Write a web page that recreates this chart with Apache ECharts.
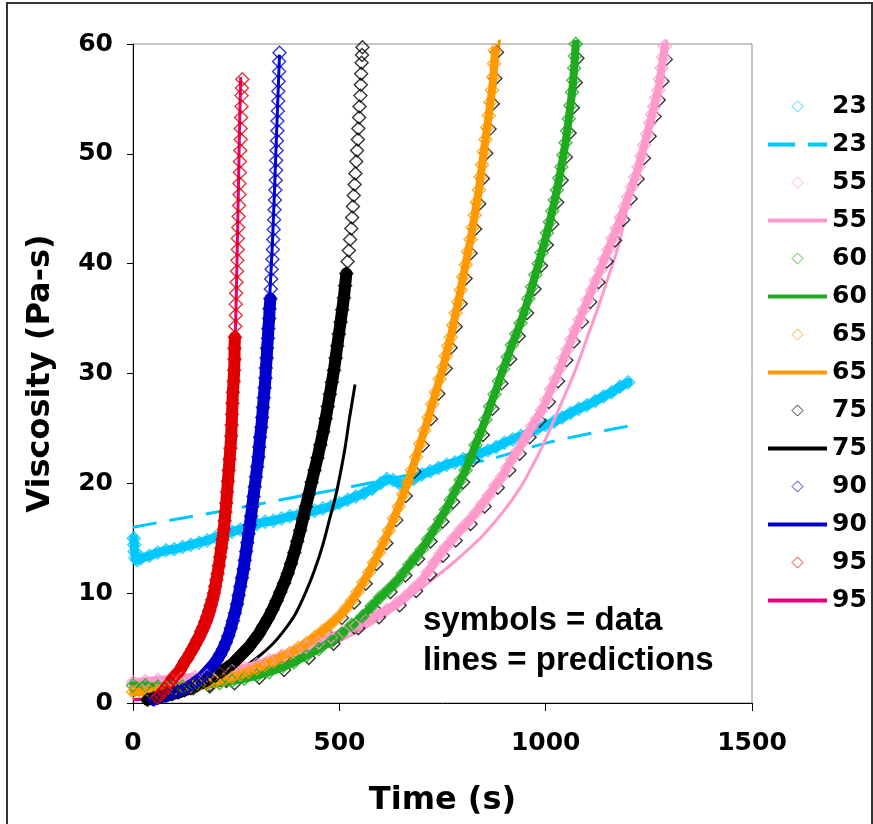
<!DOCTYPE html>
<html>
<head>
<meta charset="utf-8">
<title>Viscosity vs time</title>
<script src="https://cdn.jsdelivr.net/npm/echarts@6/dist/echarts.min.js"></script>
<style>
  html, body { margin: 0; padding: 0; background: #fff; }
  #chart { width: 873px; height: 824px; }
</style>
</head>
<body>
<div id="chart"></div>
<script>
// measured data, [time s, viscosity Pa-s]
const data23 = [
  [2, 15.0], [3, 14.4], [4, 13.8], [6, 13.2], [10, 13.0], [20, 13.2], [40, 13.4], [60, 13.7], [80, 13.9],
  [100, 14.0], [120, 14.2], [140, 14.4], [160, 14.6], [180, 14.8], [200, 15.1], [220, 15.3], [240, 15.6],
  [260, 15.8], [280, 16.0], [300, 16.3], [320, 16.5], [340, 16.6], [360, 16.8], [380, 17.0], [400, 17.1],
  [420, 17.3], [440, 17.5], [460, 17.7], [480, 17.9], [500, 18.2], [520, 18.5], [540, 18.8], [560, 19.1],
  [580, 19.5], [600, 20.0], [615, 20.4], [630, 20.3], [645, 20.0], [660, 20.0], [680, 20.4], [700, 20.8],
  [720, 21.1], [740, 21.4], [760, 21.7], [780, 21.9], [800, 22.2], [820, 22.4], [840, 22.7], [860, 23.0],
  [880, 23.3], [900, 23.7], [920, 24.0], [940, 24.3], [960, 24.6], [980, 25.0], [1000, 25.3], [1020, 25.6],
  [1040, 26.0], [1060, 26.4], [1080, 26.8], [1100, 27.1], [1120, 27.5], [1140, 27.9], [1160, 28.3],
  [1180, 28.8], [1200, 29.2]
];
const pred23 = [
  [0, 16.0], [100, 16.7], [234, 17.6], [400, 18.8], [516, 19.6], [700, 21.0], [854, 22.1], [1015, 23.8], [1200, 25.2]
];

const data55 = [
  [0, 1.9], [30, 2.0], [60, 2.1], [90, 2.2], [120, 2.3], [150, 2.4], [180, 2.5], [210, 2.7], [240, 2.9],
  [270, 3.2], [300, 3.5], [330, 3.9], [360, 4.3], [390, 4.7], [420, 5.1], [450, 5.5], [480, 6.0], [510, 6.5],
  [540, 7.0], [565, 7.5], [590, 8.0], [615, 8.5], [640, 9.1], [660, 9.7], [680, 10.4], [697, 11.0],
  [714, 11.9], [730, 12.8], [745, 13.6], [758, 14.2], [776, 15.0], [794, 15.8], [812, 16.5], [830, 17.3],
  [846, 18.1], [862, 18.9], [878, 19.8], [894, 20.6], [906, 21.4], [918, 22.2], [931, 22.9], [943, 23.7],
  [955, 24.4], [967, 25.2], [979, 25.9], [991, 26.7], [1002, 27.6], [1013, 28.6], [1024, 29.5], [1035, 30.5],
  [1044, 31.4], [1053, 32.2], [1062, 33.1], [1072, 34.0], [1082, 34.9], [1092, 35.8], [1102, 36.7],
  [1112, 37.6], [1122, 38.5], [1132, 39.4], [1142, 40.4], [1152, 41.3], [1162, 42.3], [1172, 43.2],
  [1182, 44.2], [1192, 45.2], [1200, 46.1], [1209, 47.0], [1217, 47.9], [1225, 48.8], [1232, 49.8],
  [1239, 50.8], [1246, 51.8], [1253, 52.8], [1258, 53.6], [1263, 54.3], [1268, 55.1], [1273, 55.8],
  [1277, 56.8], [1281, 57.8], [1285, 58.8], [1289, 59.8]
];
const pred55 = [
  [0, 1.7], [150, 2.1], [300, 3.0], [450, 4.8], [550, 6.6], [630, 8.5], [693, 10.3], [774, 12.7], [854, 15.5],
  [935, 19.4], [991, 23.3], [1031, 26.7], [1072, 30.3], [1100, 33.2], [1128, 36.1], [1152, 38.8], [1176, 41.6],
  [1208, 46.7], [1230, 49.4], [1250, 51.9], [1273, 55.8], [1293, 60.4]
];

const data60 = [
  [0, 1.6], [30, 1.6], [60, 1.5], [90, 1.5], [120, 1.5], [150, 1.6], [180, 1.7], [210, 1.8], [240, 2.0],
  [270, 2.2], [300, 2.5], [330, 2.8], [360, 3.2], [390, 3.7], [420, 4.3], [450, 4.9], [480, 5.6], [505, 6.3],
  [530, 7.1], [556, 7.9], [578, 8.8], [598, 9.6], [618, 10.3], [637, 11.0], [654, 11.8], [670, 12.6],
  [685, 13.3], [700, 14.0], [715, 14.9], [730, 15.8], [744, 16.7], [758, 17.6], [770, 18.5], [782, 19.4],
  [794, 20.3], [806, 21.2], [818, 22.3], [830, 23.5], [842, 24.6], [854, 25.8], [865, 27.0], [876, 28.1],
  [887, 29.3], [897, 30.4], [908, 31.5], [918, 32.6], [929, 33.6], [939, 34.6], [949, 35.7], [958, 36.8],
  [967, 37.9], [975, 39.0], [983, 40.0], [990, 41.0], [997, 41.9], [1003, 42.8], [1010, 43.8], [1016, 44.8],
  [1022, 45.8], [1027, 46.7], [1033, 47.8], [1038, 48.8], [1043, 49.9], [1048, 51.0], [1052, 52.1],
  [1056, 53.2], [1060, 54.4], [1064, 55.6], [1067, 56.7], [1069, 57.8], [1071, 58.9], [1073, 60.0]
];
const pred60 = [
  [0, 1.3], [100, 1.4], [200, 1.7], [300, 2.4], [400, 3.8], [500, 6.0], [600, 9.4], [700, 14.0], [800, 20.9],
  [900, 30.4], [950, 35.9], [1000, 42.4], [1040, 49.2], [1060, 53.4], [1078, 60.4]
];

const data65 = [
  [0, 1.0], [20, 1.0], [40, 1.05], [60, 1.1], [80, 1.15], [100, 1.25], [120, 1.35], [140, 1.5], [160, 1.65],
  [180, 1.8], [200, 1.95], [220, 2.15], [240, 2.35], [260, 2.6], [280, 2.85], [300, 3.15], [320, 3.45],
  [340, 3.8], [360, 4.15], [380, 4.55], [400, 5.0], [420, 5.45], [440, 6.0], [460, 6.6], [480, 7.2],
  [500, 7.9], [516, 8.6], [530, 9.3], [544, 10.1], [558, 11.0], [572, 11.9], [584, 12.8], [596, 13.7],
  [608, 14.7], [620, 15.7], [632, 16.8], [644, 17.9], [655, 19.0], [666, 20.1], [676, 21.2], [686, 22.4],
  [696, 23.6], [706, 24.8], [716, 26.0], [725, 27.2], [734, 28.3], [743, 29.5], [752, 30.6], [758, 31.6],
  [764, 32.5], [770, 33.3], [776, 34.4], [782, 35.5], [788, 36.5], [794, 37.6], [800, 38.8], [806, 39.9],
  [812, 41.1], [818, 42.2], [823, 43.3], [828, 44.4], [833, 45.6], [838, 46.7], [842, 47.9], [846, 49.0],
  [850, 50.2], [854, 51.3], [858, 52.4], [862, 53.5], [866, 54.7], [870, 55.8], [873, 57.0], [875, 58.2],
  [877, 59.4]
];
const pred65 = [
  [0, 0.8], [100, 1.15], [200, 1.9], [300, 3.1], [400, 4.9], [500, 7.8], [572, 11.8], [620, 15.6], [660, 19.6],
  [700, 24.1], [750, 30.4], [800, 38.6], [840, 46.2], [870, 54.5], [888, 60.4]
];

const data75 = [
  [35, 0.3], [50, 0.45], [65, 0.55], [80, 0.65], [95, 0.8], [110, 0.95], [125, 1.15], [140, 1.35], [155, 1.6],
  [170, 1.9], [185, 2.2], [200, 2.5], [214, 2.85], [228, 3.2], [242, 3.6], [255, 4.1], [268, 4.6], [281, 5.1],
  [293, 5.7], [305, 6.3], [316, 7.0], [327, 7.7], [338, 8.5], [348, 9.3], [357, 10.1], [366, 10.9],
  [375, 11.8], [383, 12.7], [391, 13.7], [398, 14.7], [405, 15.7], [412, 16.8], [419, 17.9], [426, 19.0],
  [433, 20.1], [440, 21.2], [447, 22.3], [454, 23.5], [461, 24.7], [467, 25.9], [472, 27.0], [477, 28.1],
  [482, 29.2], [487, 30.3], [491, 31.4], [495, 32.5], [499, 33.6], [503, 34.7], [507, 35.8], [511, 36.9],
  [514, 38.0], [517, 39.1], [520, 40.2], [523, 41.2], [526, 42.2], [529, 43.2], [531, 44.2], [533, 45.2],
  [535, 46.2], [537, 47.2], [539, 48.2], [541, 49.3], [543, 50.3], [545, 51.3], [546, 52.3], [548, 53.3],
  [549, 54.3], [551, 55.3], [552, 56.3], [553, 57.3], [554, 58.3], [555, 59.0], [556, 59.7]
];
const pred75 = [
  [40, 0.2], [100, 0.7], [154, 1.2], [200, 1.9], [258, 3.0], [300, 4.1], [339, 5.4], [370, 6.8], [395, 8.2],
  [420, 10.2], [440, 12.1], [460, 14.4], [476, 16.7], [492, 19.0], [504, 21.2], [515, 23.5], [524, 25.8],
  [532, 27.6], [538, 29.0]
];

const data90 = [
  [50, 0.3], [60, 0.45], [72, 0.6], [84, 0.75], [96, 0.9], [108, 1.05], [120, 1.2], [132, 1.4], [144, 1.7],
  [155, 2.0], [166, 2.3], [176, 2.7], [186, 3.1], [195, 3.5], [203, 3.9], [211, 4.4], [218, 4.9], [225, 5.5],
  [231, 6.1], [237, 6.8], [242, 7.5], [247, 8.2], [252, 9.0], [256, 9.8], [260, 10.6], [264, 11.4],
  [268, 12.2], [271, 13.0], [274, 13.8], [277, 14.6], [280, 15.4], [283, 16.2], [286, 17.0], [289, 17.9],
  [292, 18.8], [295, 19.7], [298, 20.6], [301, 21.5], [304, 22.4], [306, 23.3], [308, 24.2], [311, 25.1],
  [313, 26.0], [315, 26.9], [317, 27.8], [319, 28.7], [321, 29.6], [322, 30.5], [324, 31.4], [325, 32.3],
  [327, 33.2], [328, 34.1], [330, 35.0], [331, 35.9], [333, 36.8], [334, 37.7], [335, 38.6], [336, 39.5],
  [338, 40.4], [339, 41.3], [340, 42.2], [341, 43.1], [342, 44.0], [343, 44.9], [344, 45.8], [345, 46.7],
  [346, 47.6], [347, 48.5], [347, 49.4], [348, 50.3], [349, 51.2], [350, 52.1], [350, 53.0], [351, 53.9],
  [352, 54.8], [352, 55.7], [353, 56.6], [354, 57.5], [354, 58.4], [355, 59.2]
];
const pred90 = [
  [40, 0.2], [100, 1.0], [150, 1.9], [200, 3.8], [240, 7.2], [270, 12.0], [290, 17.5], [310, 25.0], [325, 33.0],
  [338, 42.0], [348, 52.0], [355, 59.0]
];

const data95 = [
  [60, 0.5], [66, 0.8], [72, 1.0], [78, 1.3], [84, 1.6], [90, 1.9], [96, 2.2], [102, 2.5], [108, 2.7], [114, 3.0],
  [120, 3.4], [126, 3.8], [132, 4.1], [138, 4.5], [144, 4.9], [150, 5.3], [155, 5.7], [160, 6.0], [165, 6.5],
  [170, 6.9], [175, 7.4], [180, 7.9], [184, 8.4], [188, 8.9], [192, 9.4], [196, 10.0], [199, 10.6], [202, 11.2],
  [205, 11.8], [208, 12.5], [211, 13.3], [214, 14.1], [217, 14.9], [220, 15.8], [222, 16.6], [224, 17.4],
  [226, 18.2], [228, 19.2], [230, 20.2], [232, 21.2], [234, 22.2], [236, 23.2], [238, 24.3], [239, 25.3],
  [240, 26.3], [241, 27.3], [242, 28.3], [244, 29.3], [245, 30.3], [246, 31.3], [246, 32.3], [247, 33.3],
  [248, 34.3], [249, 35.3], [249, 36.3], [250, 37.3], [251, 38.3], [252, 39.3], [253, 40.3], [254, 41.3],
  [254, 42.3], [255, 43.3], [256, 44.3], [257, 45.3], [258, 46.3], [258, 47.3], [259, 48.3], [259, 49.3],
  [260, 50.3], [261, 51.3], [261, 52.3], [262, 53.3], [263, 54.3], [263, 55.3], [264, 56.0], [265, 56.8]
];
const pred95 = [
  [0, 0.3], [40, 0.4], [60, 0.6], [100, 1.8], [150, 4.5], [185, 7.0], [205, 9.5], [220, 13.0], [232, 18.0],
  [240, 24.0], [247, 32.0], [253, 42.0], [258, 52.0], [261, 57.0]
];

// black markers peeking out along the 55 / 60 / 65 bands (no legend entry)
const darkNear65 = [
  [106, 1.1], [146, 1.35], [186, 1.65], [226, 2.0], [266, 2.45], [306, 3.0], [346, 3.65], [386, 4.4],
  [426, 5.3], [466, 6.45], [506, 7.75], [536, 9.15], [564, 10.85], [590, 12.65], [614, 14.55], [638, 16.65],
  [661, 18.85], [682, 21.05], [702, 23.45], [722, 25.85], [740, 28.15], [758, 30.45], [770, 32.35],
  [782, 34.25], [794, 36.35], [806, 38.65], [818, 40.95], [829, 43.15], [839, 45.45], [848, 47.75],
  [856, 50.05], [864, 52.25], [872, 54.55], [878, 56.85], [882, 59.25]
];
const darkNear60 = [
  [126, 1.3], [186, 1.5], [246, 1.8], [306, 2.3], [366, 3.0], [426, 4.1], [486, 5.4], [536, 6.9], [584, 8.6],
  [624, 10.1], [660, 11.6], [691, 13.1], [721, 14.7], [750, 16.5], [776, 18.3], [800, 20.1], [824, 22.1],
  [848, 24.4], [871, 26.8], [893, 29.1], [914, 31.3], [935, 33.4], [955, 35.5], [973, 37.7], [989, 39.8],
  [1003, 41.7], [1016, 43.6], [1028, 45.6], [1039, 47.6], [1049, 49.7], [1058, 51.9], [1066, 54.2],
  [1073, 56.5], [1077, 58.7]
];
const darkNear55 = [
  [126, 2.1], [186, 2.3], [246, 2.7], [306, 3.3], [366, 4.1], [426, 4.9], [486, 5.8], [546, 6.8], [596, 7.8],
  [646, 8.9], [686, 10.2], [720, 11.7], [751, 13.4], [782, 14.8], [818, 16.3], [852, 17.9], [884, 19.6],
  [912, 21.2], [937, 22.7], [961, 24.2], [985, 25.7], [1008, 27.4], [1030, 29.3], [1050, 31.2], [1068, 32.9],
  [1088, 34.7], [1108, 36.5], [1128, 38.3], [1148, 40.2], [1168, 42.1], [1188, 44.0], [1206, 45.9],
  [1223, 47.7], [1238, 49.6], [1252, 51.6], [1264, 53.4], [1274, 54.9], [1283, 56.6], [1291, 58.6]
];

const temps = ['23', '55', '60', '65', '75', '90', '95'];
const xTicks = [0, 500, 1000, 1500];
const yTicks = [0, 10, 20, 30, 40, 50, 60];

const FONT = 'DejaVu Sans';
const diamondIcon = 'path://M5.5,0L11,5.5L5.5,11L0,5.5Z';
const lineIcon = 'path://M0,0H59V4H0Z';
const dashIcon = 'path://M0,0H27V4H0Z M40,0H59V4H40Z';

function dataSeries(name, points, color, z) {
  return {
    name,
    type: 'scatter',
    data: points,
    symbol: 'diamond',
    symbolSize: 13,
    z,
    itemStyle: { color: 'rgba(0,0,0,0)', borderColor: color, borderWidth: 1.4 }
  };
}

// dense overlapping markers read as a solid stripe in the lower part of each run
function bandSeries(name, points, color, width, z) {
  return {
    name: name + '-band',
    type: 'line',
    data: points,
    symbol: 'none',
    z,
    lineStyle: { color, width, cap: 'round', join: 'round' }
  };
}

function predSeries(name, points, color, z, dashed) {
  return {
    name: name + ' ',
    type: 'line',
    data: points,
    symbol: 'none',
    smooth: 0.3,
    clip: false,
    z,
    itemStyle: { color },
    lineStyle: { color, width: 3, type: dashed ? [24, 13] : 'solid' }
  };
}

const legendData = [];
temps.forEach((t) => {
  legendData.push({ name: t, icon: diamondIcon });
  legendData.push({ name: t + ' ', icon: t === '23' ? dashIcon : lineIcon });
});

const below = (points, limit) => points.filter((p) => p[1] <= limit);

const chart = echarts.init(document.getElementById('chart'));

chart.setOption({
  animation: false,
  backgroundColor: '#fff',
  grid: {
    left: 133, right: 121, top: 44, bottom: 121,
    show: true, borderColor: '#8c8c8c', borderWidth: 1
  },
  legend: {
    orient: 'vertical',
    left: 768,
    top: 94,
    padding: 0,
    itemWidth: 59,
    itemHeight: 11,
    itemGap: 13,
    symbolKeepAspect: true,
    selectedMode: false,
    data: legendData,
    formatter: (name) => name.trim(),
    itemStyle: { borderWidth: 1 },
    textStyle: { fontFamily: FONT, fontWeight: 'bold', fontSize: 25, lineHeight: 25, color: '#000' }
  },
  xAxis: {
    type: 'value',
    min: xTicks[0],
    max: xTicks[xTicks.length - 1],
    interval: 500,
    name: 'Time (s)',
    nameLocation: 'middle',
    nameGap: 82,
    nameTextStyle: { fontFamily: FONT, fontWeight: 'bold', fontSize: 32, color: '#000' },
    axisLine: { onZero: false, lineStyle: { color: '#000', width: 1 } },
    axisTick: { inside: false, length: 8, lineStyle: { color: '#000' } },
    axisLabel: {
      margin: 28, fontFamily: FONT, fontWeight: 'bold', fontSize: 25, color: '#000',
      formatter: (v) => String(v)
    },
    splitLine: { show: false }
  },
  yAxis: {
    type: 'value',
    min: yTicks[0],
    max: yTicks[yTicks.length - 1],
    interval: 10,
    name: 'Viscosity (Pa-s)',
    nameLocation: 'middle',
    nameGap: 76,
    nameTextStyle: { fontFamily: FONT, fontWeight: 'bold', fontSize: 32, color: '#000' },
    axisLine: { onZero: false, lineStyle: { color: '#000', width: 1 } },
    axisTick: { inside: false, length: 6, lineStyle: { color: '#000' } },
    axisLabel: { margin: 20, fontFamily: FONT, fontWeight: 'bold', fontSize: 25, color: '#000' },
    splitLine: { show: false }
  },
  graphic: [
    {
      type: 'rect',
      silent: true,
      shape: { x: 7, y: 3, width: 865, height: 840 },
      style: { fill: 'none', stroke: '#333', lineWidth: 2 }
    },
    {
      type: 'text',
      left: 423,
      top: 604,
      silent: true,
      style: { text: 'symbols = data', font: 'bold 33px "Liberation Sans"', fill: '#000' }
    },
    {
      type: 'text',
      left: 423,
      top: 644,
      silent: true,
      style: { text: 'lines = predictions', font: 'bold 33px "Liberation Sans"', fill: '#000' }
    }
  ],
  series: [
    bandSeries('23', data23, '#00c8ff', 9, 2),
    dataSeries('23', data23, '#00c8ff', 2),
    predSeries('23', pred23, '#00c8ff', 2, true),
    dataSeries('dark55', darkNear55, '#000', 3),
    dataSeries('dark60', darkNear60, '#000', 3),
    dataSeries('dark65', darkNear65, '#000', 3),
    predSeries('55', pred55, '#ff99cc', 3),
    predSeries('60', pred60, '#1faa1f', 3),
    predSeries('65', pred65, '#ff9900', 3),
    predSeries('75', pred75, '#000000', 3),
    predSeries('90', pred90, '#0000cc', 3),
    predSeries('95', pred95, '#e6007e', 3),
    bandSeries('55', data55, '#ff99cc', 8, 4),
    bandSeries('60', data60, '#1faa1f', 8, 4),
    bandSeries('65', data65, '#ff9900', 8, 4),
    bandSeries('75', below(data75, 40), '#000000', 12, 4),
    bandSeries('90', below(data90, 37), '#0000cc', 12, 4),
    bandSeries('95', below(data95, 34), '#e00000', 12, 4),
    dataSeries('55', data55, '#ff99cc', 5),
    dataSeries('60', data60, '#1faa1f', 5),
    dataSeries('65', data65, '#ff9900', 5),
    dataSeries('75', data75, '#000000', 5),
    dataSeries('90', data90, '#0000cc', 5),
    dataSeries('95', data95, '#e00000', 5)
  ]
});

window.addEventListener('resize', () => chart.resize());
</script>
</body>
</html>
